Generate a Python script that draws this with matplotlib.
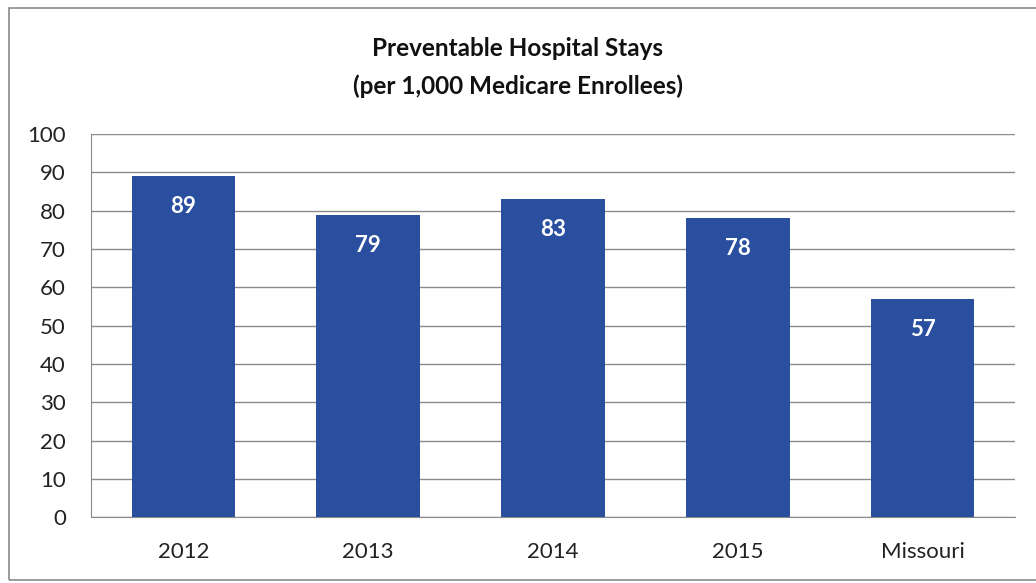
import matplotlib.pyplot as plt
import numpy as np
from matplotlib.patches import Rectangle

# Data
categories = ['2012', '2013', '2014', '2015', 'Missouri']
stays = [89, 79, 83, 78, 57]

title_1 = 'Preventable Hospital Stays'
title_2 = '(per 1,000 Medicare Enrollees)'

plt.rcParams['font.family'] = ['Lato', 'DejaVu Sans']

fig = plt.figure(figsize=(10.36, 5.83), dpi=100)
ax = fig.add_axes([0.0878, 0.113, 0.892, 0.657])

x = np.arange(len(categories))
bars = ax.bar(x, stays, width=0.56, color='#2A4F9F', zorder=3)

for b, v in zip(bars, stays):
    ax.text(b.get_x() + b.get_width() / 2, v - 8, str(v), ha='center', va='center',
            color='white', fontsize=16, fontweight='bold', zorder=4)

ax.set_ylim(0, 100)
ax.set_yticks(range(0, 101, 10))
ax.set_xlim(-0.5, len(categories) - 0.5)
ax.set_xticks(x)
ax.set_xticklabels(categories)
ax.tick_params(axis='both', length=0, labelsize=16, colors='#222222')
ax.tick_params(axis='x', pad=18)
ax.tick_params(axis='y', pad=18)
ax.grid(axis='y', color='#8a8a8a', linewidth=1, zorder=0)

for s in ['top', 'right']:
    ax.spines[s].set_visible(False)
ax.spines['left'].set_color('#8a8a8a')
ax.spines['bottom'].set_color('#8a8a8a')

fig.text(0.5, 0.917, title_1, ha='center', va='center', fontsize=17.5, fontweight='bold', color='#111111')
fig.text(0.5, 0.852, title_2, ha='center', va='center', fontsize=17.5, fontweight='bold', color='#111111')

# outer frame like the chart border
fig.patches.append(Rectangle((0.009, 0.005), 1.0, 0.981, transform=fig.transFigure,
                             fill=False, edgecolor='#8a8a8a', linewidth=1.2))

plt.savefig('out.png', dpi=100)
